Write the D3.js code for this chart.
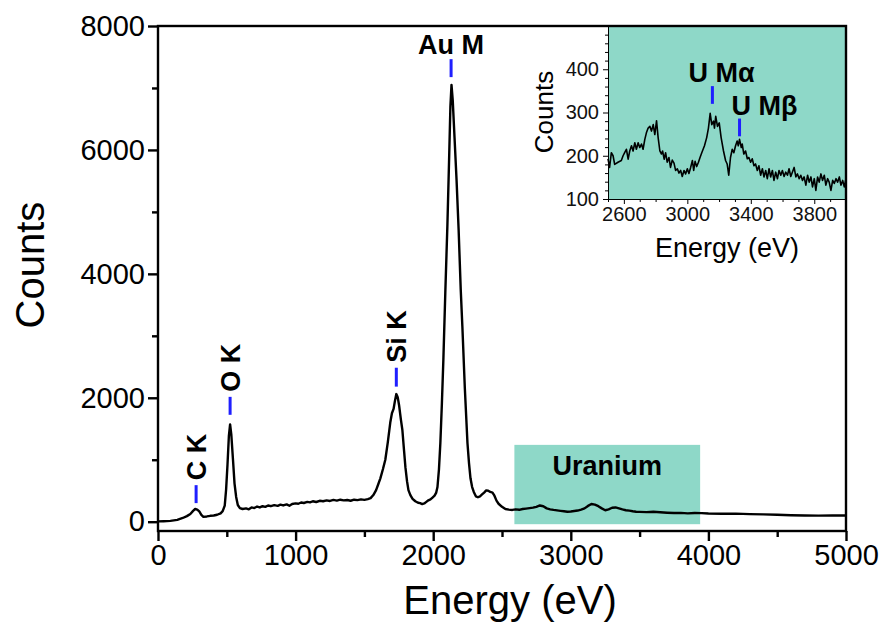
<!DOCTYPE html>
<html>
<head>
<meta charset="utf-8">
<title>EDS spectrum</title>
<style>
  body{margin:0;background:#fff;}
  svg{display:block;font-family:"Liberation Sans",Arial,sans-serif;}
</style>
</head>
<body>
<svg id="chart" width="893" height="628"></svg>
<script src="https://cdn.jsdelivr.net/npm/d3@7/dist/d3.min.js"></script>
<script>
// ---- data ----
// main spectrum [energy eV, counts]
var mainSpectrum = [
  [0,5],[40,8],[90,14],[140,30],[180,60],[210,90],[235,125],[255,175],[270,205],[285,195],
  [300,165],[315,110],[330,78],[355,85],[380,95],[405,100],[430,112],[455,135],[470,170],[485,260],
  [495,520],[505,920],[515,1380],[524,1570],[533,1400],[545,1000],[556,620],[568,400],[580,270],[595,220],
  [615,205],[640,215],[660,200],[680,230],[700,220],[720,245],[740,230],[760,250],[780,240],[800,262],
  [820,250],[845,268],[870,255],[890,275],[910,262],[935,280],[955,258],[975,285],[1000,295],[1020,290],
  [1040,310],[1060,302],[1085,320],[1105,312],[1125,330],[1150,318],[1175,338],[1200,330],[1225,345],[1250,335],
  [1275,352],[1300,340],[1325,355],[1350,345],[1375,350],[1400,338],[1425,355],[1450,348],[1475,360],[1500,352],
  [1525,365],[1545,380],[1565,430],[1585,510],[1600,600],[1616,700],[1635,850],[1652,1000],[1670,1280],[1688,1600],
  [1700,1750],[1712,1820],[1722,1950],[1732,2060],[1742,2010],[1752,1880],[1765,1650],[1776,1480],[1788,1150],[1798,880],
  [1810,650],[1820,510],[1834,430],[1850,370],[1870,330],[1890,305],[1905,300],[1920,285],[1935,295],[1950,320],
  [1965,345],[1980,360],[1995,390],[2010,420],[2022,470],[2031,560],[2042,850],[2052,1270],[2063,1900],[2074,2620],
  [2088,3700],[2103,4770],[2115,5800],[2125,6700],[2133,7050],[2142,6800],[2155,6200],[2170,5500],[2185,4700],[2200,3750],
  [2212,3150],[2230,2150],[2249,1270],[2260,950],[2271,700],[2283,560],[2295,480],[2310,410],[2325,395],[2340,410],
  [2355,440],[2370,470],[2385,505],[2400,500],[2415,480],[2431,470],[2445,420],[2460,340],[2475,290],[2500,240],
  [2525,205],[2550,195],[2575,190],[2600,200],[2625,192],[2650,205],[2675,212],[2700,220],[2725,228],[2750,240],
  [2775,262],[2800,250],[2825,215],[2850,200],[2875,190],[2900,182],[2925,175],[2950,168],[2975,160],[3000,165],
  [3025,172],[3050,180],[3075,195],[3100,215],[3125,255],[3150,285],[3175,275],[3200,250],[3225,215],[3250,185],
  [3275,200],[3300,225],[3325,230],[3350,215],[3375,198],[3400,185],[3425,178],[3450,168],[3475,160],[3500,158],
  [3550,155],[3600,160],[3650,152],[3700,145],[3750,140],[3800,142],[3850,135],[3900,140],[3950,138],[4000,132],
  [4100,128],[4200,130],[4300,122],[4400,118],[4500,112],[4600,105],[4700,100],[4800,98],[4900,102],[5000,100]
];

// inset spectrum (2500 - 4000 eV)
var insetSpectrum = [
  [2500,193],[2510,173],[2521,207],[2532,200],[2542,180],[2563,185],[2584,189],[2595,200],[2605,207],[2616,215],
  [2627,192],[2637,211],[2648,223],[2658,211],[2669,230],[2679,215],[2690,230],[2700,219],[2711,227],[2721,215],
  [2732,238],[2742,253],[2753,264],[2764,268],[2774,257],[2785,272],[2795,249],[2806,281],[2816,242],[2827,211],
  [2837,204],[2844,211],[2854,192],[2863,207],[2873,185],[2884,196],[2894,173],[2905,190],[2916,183],[2926,166],
  [2937,170],[2947,160],[2958,166],[2968,152],[2979,166],[2989,158],[3000,170],[3010,159],[3021,173],[3032,189],
  [3040,166],[3049,187],[3059,175],[3070,185],[3080,196],[3091,207],[3108,223],[3122,242],[3133,264],[3144,298],
  [3154,272],[3165,280],[3171,264],[3179,291],[3190,268],[3201,276],[3213,242],[3228,211],[3241,189],[3251,181],
  [3261,155],[3272,196],[3283,215],[3293,207],[3304,223],[3314,234],[3321,223],[3329,238],[3340,219],[3346,227],
  [3356,204],[3367,211],[3378,193],[3388,196],[3399,185],[3409,193],[3420,177],[3430,181],[3441,166],[3451,177],
  [3462,155],[3473,170],[3483,151],[3494,166],[3504,147],[3515,170],[3525,151],[3536,166],[3546,143],[3557,162],
  [3568,147],[3578,166],[3589,155],[3599,166],[3610,152],[3620,162],[3631,155],[3641,170],[3652,152],[3662,162],
  [3673,173],[3684,151],[3694,158],[3705,147],[3715,155],[3726,143],[3736,151],[3747,132],[3758,155],[3768,139],
  [3779,151],[3789,128],[3800,147],[3810,120],[3821,151],[3831,139],[3842,158],[3852,143],[3863,155],[3873,132],
  [3884,147],[3894,139],[3905,120],[3916,143],[3926,136],[3937,147],[3947,139],[3958,151],[3968,132],[3979,143],
  [3989,128],[4000,147]
];

var xTicks = [0, 1000, 2000, 3000, 4000, 5000];
var xMinorTicks = [500, 1500, 2500, 3500, 4500];
var yTicks = [0, 2000, 4000, 6000, 8000];
var yMinorTicks = [1000, 3000, 5000, 7000];

var insetXTicks = [2600, 3000, 3400, 3800];
var insetYTicks = [100, 200, 300, 400];

// peak labels in the main plot
var peakNames = ["C K", "O K", "Si K", "Au M"];
var peakEnergy = [277, 524, 1732, 2130];
var peakMarker = [[300, 590], [1725, 2015], [2180, 2485], [7175, 7465]];

// peak labels in the inset
var insetPeakNames = ["U M\u03b1", "U M\u03b2"];
var insetPeakEnergy = [3158, 3329];
var insetPeakMarker = [[320, 361], [245, 286]];

// uranium region box [energy], [counts]
var uraniumEnergy = [2590, 3940];
var uraniumCounts = [-40, 1240];

var teal = '#8ed8c8';
var blue = '#1f1fff';
var fmt = d3.format('d');

var svg = d3.select('#chart');

// ---- main plot ----
var x = d3.scaleLinear().domain([0, 5000]).range([158, 846]);
var y = d3.scaleLinear().domain([-150, 8000]).range([531, 26]);

// uranium box
svg.append('rect')
  .attr('x', x(uraniumEnergy[0])).attr('y', y(uraniumCounts[1]))
  .attr('width', x(uraniumEnergy[1]) - x(uraniumEnergy[0]))
  .attr('height', y(uraniumCounts[0]) - y(uraniumCounts[1]))
  .attr('fill', teal);
svg.append('text')
  .attr('x', (x(uraniumEnergy[0]) + x(uraniumEnergy[1])) / 2)
  .attr('y', y(uraniumCounts[1]) + 30)
  .attr('text-anchor', 'middle')
  .style('font-size', '27px').style('font-weight', 'bold')
  .text('Uranium');

var line = d3.line().x(function(d){ return x(d[0]); }).y(function(d){ return y(d[1]); });
svg.append('path').datum(mainSpectrum)
  .attr('d', line)
  .attr('fill', 'none').attr('stroke', '#000').attr('stroke-width', 2.4)
  .attr('stroke-linejoin', 'round');

// peak markers + labels
peakNames.forEach(function(name, i){
  var px = x(peakEnergy[i]);
  svg.append('line')
    .attr('x1', px).attr('x2', px)
    .attr('y1', y(peakMarker[i][0])).attr('y2', y(peakMarker[i][1]))
    .attr('stroke', blue).attr('stroke-width', 3);
  var top = y(peakMarker[i][1]) - 5;
  var t = svg.append('text')
    .style('font-size', '27px').style('font-weight', 'bold')
    .text(name);
  if (name === 'Au M') {
    t.attr('x', px).attr('y', top).attr('text-anchor', 'middle');
  } else {
    t.attr('transform', 'translate(' + px + ',' + top + ') rotate(-90)')
      .attr('dy', '0.36em').attr('text-anchor', 'start');
  }
});

// axes
var gx = svg.append('g').attr('transform', 'translate(0,531)')
  .call(d3.axisBottom(x).tickValues(xTicks).tickFormat(fmt).tickSize(10).tickSizeOuter(0).tickPadding(3));
svg.append('g').attr('transform', 'translate(0,531)')
  .call(d3.axisBottom(x).tickValues(xMinorTicks).tickSize(6).tickFormat(''))
  .select('.domain').remove();
var gy = svg.append('g').attr('transform', 'translate(158,0)')
  .call(d3.axisLeft(y).tickValues(yTicks).tickFormat(fmt).tickSize(10).tickSizeOuter(0).tickPadding(3));
svg.append('g').attr('transform', 'translate(158,0)')
  .call(d3.axisLeft(y).tickValues(yMinorTicks).tickSize(6).tickFormat(''))
  .select('.domain').remove();

svg.selectAll('.tick line').attr('stroke-width', 2.4);
[gx, gy].forEach(function(g){
  g.selectAll('text').style('font-size', '29px').attr('fill', '#000')
    .style('font-family', '"Liberation Sans",Arial,sans-serif');
});

svg.append('text')
  .attr('x', 510).attr('y', 614)
  .attr('text-anchor', 'middle')
  .style('font-size', '40px')
  .text('Energy (eV)');
svg.append('text')
  .attr('transform', 'translate(44,265) rotate(-90)')
  .attr('text-anchor', 'middle')
  .style('font-size', '40px')
  .text('Counts');

// ---- inset ----
var ix = d3.scaleLinear().domain([2500, 4000]).range([608, 846]);
var iy = d3.scaleLinear().domain([100, 500]).range([199, 26]);

svg.append('rect')
  .attr('x', ix(2500)).attr('y', iy(500))
  .attr('width', ix(4000) - ix(2500)).attr('height', iy(100) - iy(500))
  .attr('fill', teal);

var iline = d3.line().x(function(d){ return ix(d[0]); }).y(function(d){ return iy(d[1]); });
svg.append('path').datum(insetSpectrum)
  .attr('d', iline)
  .attr('fill', 'none').attr('stroke', '#000').attr('stroke-width', 1.6)
  .attr('stroke-linejoin', 'round');

insetPeakNames.forEach(function(name, i){
  var px = ix(insetPeakEnergy[i]);
  svg.append('line')
    .attr('x1', px).attr('x2', px)
    .attr('y1', iy(insetPeakMarker[i][0])).attr('y2', iy(insetPeakMarker[i][1]))
    .attr('stroke', blue).attr('stroke-width', 3);
  svg.append('text')
    .attr('x', px - (i === 0 ? 24 : 8))
    .attr('y', iy(insetPeakMarker[i][1]) - 4)
    .style('font-size', '27px').style('font-weight', 'bold')
    .text(name);
});

var igx = svg.append('g').attr('transform', 'translate(0,199)')
  .call(d3.axisBottom(ix).tickValues(insetXTicks).tickFormat(fmt).tickSize(5).tickSizeOuter(0).tickPadding(3));
svg.append('g').attr('transform', 'translate(0,199)')
  .call(d3.axisBottom(ix).tickValues(d3.range(2500, 4001, 100).filter(function(v){ return insetXTicks.indexOf(v) < 0; }))
    .tickSize(3).tickFormat(''))
  .select('.domain').remove();
var igy = svg.append('g').attr('transform', 'translate(608,0)')
  .call(d3.axisLeft(iy).tickValues(insetYTicks).tickFormat(fmt).tickSize(5).tickSizeOuter(0).tickPadding(4));
svg.append('g').attr('transform', 'translate(608,0)')
  .call(d3.axisLeft(iy).tickValues(d3.range(120, 500, 20).filter(function(v){ return v % 100 !== 0; }))
    .tickSize(3).tickFormat(''))
  .select('.domain').remove();
[igx, igy].forEach(function(g){
  g.selectAll('text').style('font-size', '20px').attr('fill', '#111')
    .style('font-family', '"Liberation Sans",Arial,sans-serif');
});

svg.append('text')
  .attr('x', 727).attr('y', 257)
  .attr('text-anchor', 'middle')
  .style('font-size', '27px')
  .text('Energy (eV)');
svg.append('text')
  .attr('transform', 'translate(553,112) rotate(-90)')
  .attr('text-anchor', 'middle')
  .style('font-size', '26px')
  .text('Counts');

// ---- frame on top ----
svg.append('rect')
  .attr('x', 158).attr('y', 26).attr('width', 688).attr('height', 505)
  .attr('fill', 'none').attr('stroke', '#000').attr('stroke-width', 2.4);
</script>
</body>
</html>
